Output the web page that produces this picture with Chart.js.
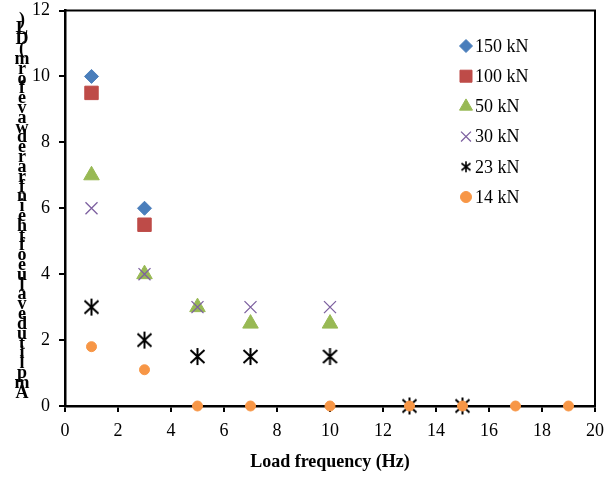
<!DOCTYPE html>
<html lang="en">
<head>
  <meta charset="UTF-8" />
  <title>Load frequency</title>
  <script src="https://cdn.jsdelivr.net/npm/chart.js"></script>
  <style>
    html, body {
      margin: 0;
      padding: 0;
      background: #ffffff;
    }

    #wrap {
      width: 611px;
      height: 477px;
    }
  </style>
</head>

<body>
  <div id="wrap">
    <canvas id="freqChart" width="611" height="477"></canvas>
  </div>

  <script>
    // load levels
    const seriesNames = ['150 kN', '100 kN', '50 kN', '30 kN', '23 kN', '14 kN'];

    // load frequency (Hz) for each series
    const freq150 = [1, 3];
    const freq100 = [1, 3];
    const freq50 = [1, 3, 5, 7, 10];
    const freq30 = [1, 3, 5, 7, 10];
    const freq23 = [1, 3, 5, 7, 10, 13, 15];
    const freq14 = [1, 3, 5, 7, 10, 13, 15, 17, 19];

    // amplitude values
    const amp150 = [10, 6];
    const amp100 = [9.5, 5.5];
    const amp50 = [7, 4, 3, 2.5, 2.5];
    const amp30 = [6, 4, 3, 3, 3];
    const amp23 = [3, 2, 1.5, 1.5, 1.5, 0, 0];
    const amp14 = [1.8, 1.1, 0, 0, 0, 0, 0, 0, 0];

    const xTicks = [0, 2, 4, 6, 8, 10, 12, 14, 16, 18, 20];
    const yTicks = [0, 2, 4, 6, 8, 10, 12];

    const xTitle = 'Load frequency (Hz)';
    const yTitle = 'Amplitude value of the infrared wave form (DL)';

    const serif = '"Liberation Serif", "Times New Roman", serif';

    // six-armed asterisk marker (X with a vertical bar)
    function makeAsterisk(w, h, lw) {
      const c = document.createElement('canvas');
      c.width = w;
      c.height = h;
      const g = c.getContext('2d');
      g.strokeStyle = '#000000';
      g.lineWidth = lw;
      g.beginPath();
      g.moveTo(w / 2, 1);
      g.lineTo(w / 2, h - 1);
      g.moveTo(1.5, 3);
      g.lineTo(w - 1.5, h - 3);
      g.moveTo(w - 1.5, 3);
      g.lineTo(1.5, h - 3);
      g.stroke();
      return c;
    }

    const asterisk = makeAsterisk(17, 19, 2);
    const asteriskSmall = makeAsterisk(12, 13, 1.6);

    const colors = ['#4A7EBB', '#BE4B48', '#98B954', '#7D60A0', '#000000', '#F79646'];
    const styles = ['rectRot', 'rect', 'triangle', 'crossRot', asterisk, 'circle'];
    const radii = [7, 9.5, 9, 8.5, 8, 5];
    const legendStyles = ['rectRot', 'rect', 'triangle', 'crossRot', asteriskSmall, 'circle'];
    const legendRadii = [6.5, 8.5, 7.5, 7, 6, 5.5];

    const freqs = [freq150, freq100, freq50, freq30, freq23, freq14];
    const amps = [amp150, amp100, amp50, amp30, amp23, amp14];

    const datasets = seriesNames.map((name, i) => ({
      label: name,
      data: freqs[i].map((f, j) => ({ x: f, y: amps[i][j] })),
      pointStyle: styles[i],
      pointRadius: radii[i],
      pointHoverRadius: radii[i],
      backgroundColor: colors[i],
      borderColor: colors[i],
      pointBorderWidth: i === 3 ? 1.3 : 1,
      showLine: false,
      clip: false,
      // later series sit on top
      order: seriesNames.length - 1 - i
    }));

    // frame on top/right plus the legend inside the plot area
    const framePlugin = {
      id: 'frame',
      afterDraw(chart) {
        const ctx = chart.ctx;
        const a = chart.chartArea;
        ctx.save();
        ctx.strokeStyle = '#000000';
        ctx.lineWidth = 2;
        ctx.beginPath();
        ctx.moveTo(a.left, a.top);
        ctx.lineTo(a.right, a.top);
        ctx.lineTo(a.right, a.bottom);
        ctx.stroke();

        ctx.font = '18px ' + serif;
        ctx.textBaseline = 'middle';
        ctx.textAlign = 'left';
        seriesNames.forEach((name, i) => {
          const y = 46 + i * 30.2;
          ctx.fillStyle = colors[i];
          ctx.strokeStyle = colors[i];
          ctx.lineWidth = i === 3 ? 1.3 : 1;
          Chart.helpers.drawPoint(ctx, {
            pointStyle: legendStyles[i],
            radius: legendRadii[i],
            rotation: 0,
            borderWidth: ctx.lineWidth
          }, 466, y);
          ctx.fillStyle = '#000000';
          ctx.fillText(name, 475, y + 1);
        });
        ctx.restore();
      }
    };

    // y title: upright letters stacked from the bottom up
    const stackedTitlePlugin = {
      id: 'stackedTitle',
      afterDraw(chart) {
        const ctx = chart.ctx;
        const chars = yTitle.replace(/ /g, '').split('');
        const step = (393 - 20) / (chars.length - 1);
        ctx.save();
        ctx.font = 'bold 18px ' + serif;
        ctx.fillStyle = '#000000';
        ctx.textAlign = 'center';
        ctx.textBaseline = 'middle';
        chars.forEach((ch, i) => {
          ctx.fillText(ch, 22, 393 - i * step);
        });
        ctx.restore();
      }
    };

    new Chart(document.getElementById('freqChart'), {
      type: 'scatter',
      data: { datasets: datasets },
      options: {
        responsive: false,
        animation: false,
        layout: {
          padding: { top: 8, right: 16, left: 0, bottom: 0 }
        },
        plugins: {
          legend: { display: false },
          tooltip: { enabled: false }
        },
        scales: {
          x: {
            type: 'linear',
            min: 0,
            max: 20,
            afterBuildTicks: (scale) => {
              scale.ticks = xTicks.map(v => ({ value: v }));
            },
            afterFit: (scale) => {
              scale.height = 71;
              scale.paddingLeft = 0;
              scale.paddingRight = 0;
            },
            border: { display: true, color: '#000000', width: 2.5 },
            grid: {
              drawOnChartArea: false,
              drawTicks: true,
              tickLength: 6,
              tickColor: '#000000',
              lineWidth: 2
            },
            ticks: {
              color: '#000000',
              padding: 8,
              maxRotation: 0,
              font: { family: serif, size: 18 }
            },
            title: {
              display: true,
              text: xTitle,
              color: '#000000',
              padding: { top: 0, bottom: 4 },
              font: { family: serif, size: 18, weight: 'bold' }
            }
          },
          y: {
            type: 'linear',
            min: 0,
            max: 12,
            afterBuildTicks: (scale) => {
              scale.ticks = yTicks.map(v => ({ value: v }));
            },
            afterFit: (scale) => {
              scale.width = 65;
              scale.paddingTop = 0;
              scale.paddingBottom = 0;
            },
            border: { display: true, color: '#000000', width: 2.5 },
            grid: {
              drawOnChartArea: false,
              drawTicks: true,
              tickLength: 6,
              tickColor: '#000000',
              lineWidth: 2
            },
            ticks: {
              color: '#000000',
              padding: 9,
              font: { family: serif, size: 18 }
            }
          }
        }
      },
      plugins: [framePlugin, stackedTitlePlugin]
    });
  </script>
</body>
</html>
